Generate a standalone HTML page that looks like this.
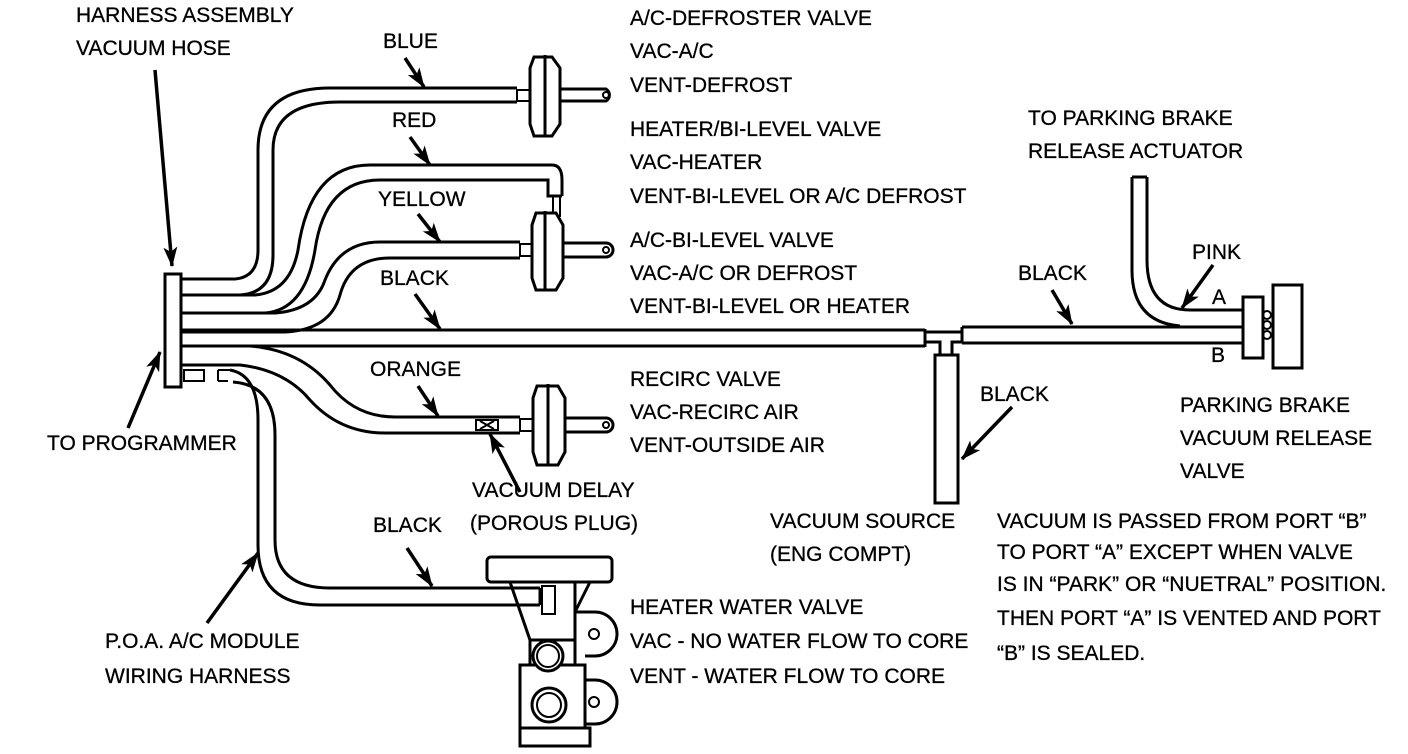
<!DOCTYPE html>
<html><head><meta charset="utf-8"><style>
html,body{margin:0;padding:0;background:#fff;}
svg{display:block;}
text{font-family:"Liberation Sans",Arial,sans-serif;font-size:21px;fill:#000;stroke:#000;stroke-width:0.3;}
</style></head><body>
<svg width="1408" height="754" viewBox="0 0 1408 754" xmlns="http://www.w3.org/2000/svg">
<defs>
<marker id="a" viewBox="0 0 20 14" refX="19" refY="7" markerWidth="20" markerHeight="14" orient="auto" markerUnits="userSpaceOnUse"><path d="M0,0 L20,7 L0,14 L5,7 Z" fill="#000"/></marker>
</defs>
<g fill="none" stroke="#000" stroke-width="3">
<rect x="165" y="274" width="16" height="113" fill="#fff"/>
<path d="M181,279 L235,279 Q258,277 258,250 L258,150 Q258,88 330,88 L517,88"/>
<path d="M181,295 L240,295 Q273,293 273,255 L273,150 Q273,102 340,102 L517,102"/>
<rect x="517" y="90" width="13" height="11" stroke-width="2"/>
<path d="M534,57 L552,57 L560,68 L560,124 L552,136 L534,136 L530,124 L530,68 Z" fill="#fff"/>
<line x1="545" y1="55" x2="545" y2="137"/>
<path d="M560,89 L606,89 A7,7 0 0 1 606,101 L560,101"/>
<circle cx="606" cy="95" r="3" stroke-width="2"/>
<path d="M181,295 L255,295 Q290,292 298,250 Q310,165 370,165 L552,165 Q562,165 562,180 L562,196"/>
<path d="M181,313 L265,313 Q305,310 315,250 Q325,180 380,180 L548,180 L548,196 L562,196"/>
<rect x="553" y="196" width="7" height="20" stroke-width="2"/>
<path d="M181,313 L275,313 Q315,310 325,280 Q340,242 380,242 L520,242"/>
<path d="M181,332 L285,332 Q330,330 340,295 Q350,258 390,258 L520,258"/>
<rect x="520" y="244" width="12" height="12" stroke-width="2"/>
<path d="M536,213 L556,213 L563,225 L563,278 L556,290 L536,290 L532,278 L532,225 Z" fill="#fff"/>
<line x1="545" y1="211" x2="545" y2="291"/>
<path d="M563,243 L606,243 A7,7 0 0 1 606,257 L563,257"/>
<circle cx="606" cy="250" r="3" stroke-width="2"/>
<line x1="181" y1="330" x2="925" y2="330"/>
<line x1="181" y1="346" x2="925" y2="346"/>
<line x1="925" y1="329" x2="925" y2="347"/>
<path d="M925,332 L962,332 M925,342 L940,342 L940,355 M962,342 L952,342 L952,355"/>
<rect x="935" y="355" width="23" height="148"/>
<line x1="962" y1="327" x2="1243" y2="327"/>
<line x1="962" y1="343" x2="1243" y2="343"/>
<line x1="962" y1="327" x2="962" y2="343"/>
<path d="M1132,177 L1132,270 Q1132,322 1180,326"/>
<path d="M1147,177 L1147,260 Q1147,310 1190,310 L1243,310"/>
<line x1="1132" y1="177" x2="1147" y2="177"/>
<rect x="1243" y="297" width="20" height="61" fill="#fff"/>
<circle cx="1267" cy="315" r="4" stroke-width="2"/>
<circle cx="1267" cy="325" r="4" stroke-width="2"/>
<circle cx="1267" cy="335" r="4" stroke-width="2"/>
<rect x="1273" y="285" width="29" height="83" fill="#fff"/>
<path d="M181,346 L250,346 Q300,350 330,385 Q355,417 395,417 L520,417"/>
<path d="M181,365 L240,365 Q285,370 310,400 Q340,433 385,433 L520,433"/>
<rect x="476" y="420" width="22" height="10" stroke-width="2"/>
<path d="M480,421 L494,429 M480,429 L494,421" stroke-width="2"/>
<rect x="520" y="419" width="13" height="12" stroke-width="2"/>
<path d="M537,386 L558,386 L565,398 L565,452 L558,465 L537,465 L533,452 L533,398 Z" fill="#fff"/>
<line x1="548" y1="384" x2="548" y2="466"/>
<path d="M565,418 L606,418 A7,7 0 0 1 606,432 L565,432"/>
<circle cx="606" cy="425" r="3" stroke-width="2"/>
<rect x="184" y="370" width="20" height="11" stroke-width="2"/>
<path d="M218,370 L230,370 M218,381 L228,381 M218,370 L218,381" stroke-width="2"/>
<path d="M230,370 Q258,375 258,420 L258,545 Q258,605 320,605 L540,605"/>
<path d="M233,382 Q275,385 275,435 L275,540 Q275,588 330,588 L540,588"/>
<line x1="540" y1="588" x2="540" y2="605"/>
<!-- water valve -->
<rect x="487" y="557" width="125" height="25" rx="4" fill="#fff"/>
<rect x="542" y="586" width="13" height="28" stroke-width="2" fill="#fff"/>
<path d="M510,582 L530,640 L575,640 L575,582 M575,612 L590,582"/>
<path d="M530,640 L530,665 M575,640 L575,665"/>
<path d="M520,665 L585,665 L585,728 L520,728 Z"/>
<path d="M575,612 L595,612 A22,22 0 0 1 595,656 L585,656"/>
<circle cx="594" cy="634" r="5" stroke-width="2"/>
<path d="M585,680 L595,680 A22,22 0 0 1 595,724 L585,724"/>
<circle cx="594" cy="702" r="5" stroke-width="2"/>
<circle cx="548" cy="656" r="15" fill="#fff"/>
<circle cx="548" cy="656" r="11" stroke-width="2"/>
<circle cx="549" cy="705" r="17"/>
<circle cx="549" cy="705" r="12" stroke-width="2"/>
<rect x="520" y="728" width="70" height="18" fill="#fff"/>
</g>
<g stroke="#000" stroke-width="3.5" marker-end="url(#a)">
<line x1="155" y1="70" x2="172" y2="266"/>
<line x1="128" y1="428" x2="160" y2="352"/>
<line x1="405" y1="58" x2="424" y2="87"/>
<line x1="410" y1="137" x2="430" y2="165"/>
<line x1="418" y1="214" x2="440" y2="242"/>
<line x1="415" y1="294" x2="440" y2="329"/>
<line x1="418" y1="386" x2="438" y2="416"/>
<line x1="520" y1="492" x2="490" y2="434"/>
<line x1="407" y1="548" x2="432" y2="586"/>
<line x1="207" y1="623" x2="258" y2="553"/>
<line x1="1052" y1="290" x2="1072" y2="324"/>
<line x1="1213" y1="265" x2="1182" y2="308"/>
<line x1="1012" y1="407" x2="962" y2="459"/>
</g>
<g>
<text x="76" y="22">HARNESS ASSEMBLY</text>
<text x="76" y="55">VACUUM HOSE</text>
<text x="383" y="48">BLUE</text>
<text x="630" y="25">A/C-DEFROSTER VALVE</text>
<text x="630" y="58">VAC-A/C</text>
<text x="630" y="92">VENT-DEFROST</text>
<text x="392" y="127">RED</text>
<text x="630" y="136">HEATER/BI-LEVEL VALVE</text>
<text x="630" y="169">VAC-HEATER</text>
<text x="630" y="203">VENT-BI-LEVEL OR A/C DEFROST</text>
<text x="378" y="206">YELLOW</text>
<text x="630" y="247">A/C-BI-LEVEL VALVE</text>
<text x="630" y="280">VAC-A/C OR DEFROST</text>
<text x="630" y="313">VENT-BI-LEVEL OR HEATER</text>
<text x="380" y="285">BLACK</text>
<text x="1028" y="125">TO PARKING BRAKE</text>
<text x="1028" y="158">RELEASE ACTUATOR</text>
<text x="1192" y="259">PINK</text>
<text x="1018" y="280">BLACK</text>
<text x="1212" y="304">A</text>
<text x="1211" y="362">B</text>
<text x="370" y="376">ORANGE</text>
<text x="630" y="386">RECIRC VALVE</text>
<text x="630" y="419">VAC-RECIRC AIR</text>
<text x="630" y="452">VENT-OUTSIDE AIR</text>
<text x="980" y="401">BLACK</text>
<text x="1180" y="412">PARKING BRAKE</text>
<text x="1180" y="445">VACUUM RELEASE</text>
<text x="1180" y="478">VALVE</text>
<text x="47" y="450">TO PROGRAMMER</text>
<text x="472" y="497">VACUUM DELAY</text>
<text x="470" y="530">(POROUS PLUG)</text>
<text x="770" y="528">VACUUM SOURCE</text>
<text x="770" y="561">(ENG COMPT)</text>
<text x="997" y="528">VACUUM IS PASSED FROM PORT “B”</text>
<text x="997" y="559">TO PORT “A” EXCEPT WHEN VALVE</text>
<text x="997" y="591">IS IN “PARK” OR “NUETRAL” POSITION.</text>
<text x="997" y="625">THEN PORT “A” IS VENTED AND PORT</text>
<text x="997" y="660">“B” IS SEALED.</text>
<text x="373" y="532">BLACK</text>
<text x="630" y="614">HEATER WATER VALVE</text>
<text x="630" y="648">VAC - NO WATER FLOW TO CORE</text>
<text x="630" y="683">VENT - WATER FLOW TO CORE</text>
<text x="105" y="648">P.O.A. A/C MODULE</text>
<text x="105" y="683">WIRING HARNESS</text>
</g>
</svg>
</body></html>
